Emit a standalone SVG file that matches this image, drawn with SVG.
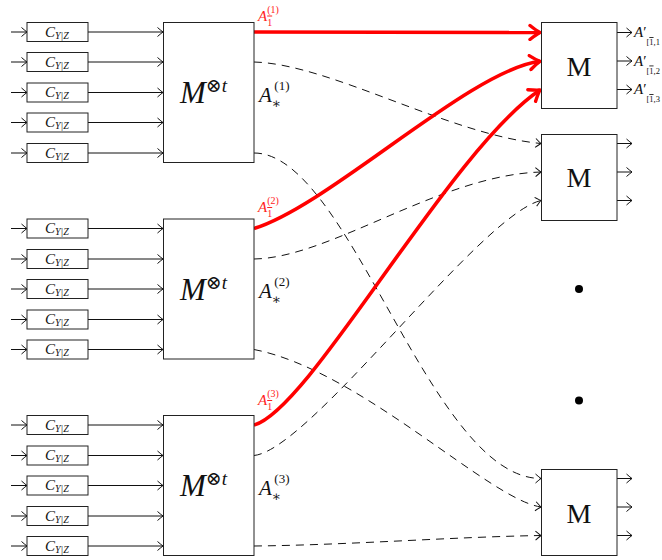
<svg xmlns="http://www.w3.org/2000/svg" width="662" height="560" viewBox="0 0 662 560">
<style>
.box{fill:#fff;stroke:#222;stroke-width:1}
.ln{fill:none;stroke:#111;stroke-width:1}
.dash{fill:none;stroke:#111;stroke-width:1;stroke-dasharray:8 6}
.red{fill:none;stroke:#f00;stroke-width:3.6}
.t{font-family:"Liberation Serif","DejaVu Serif",serif;fill:#111}
.it{font-style:italic}
.rt{font-family:"Liberation Serif","DejaVu Serif",serif;fill:#f22}
.ov{text-decoration:overline}
</style>
<defs>
<marker id="ah" viewBox="-7 -6 9 12" markerWidth="9" markerHeight="12" refX="0" refY="0" orient="auto" markerUnits="userSpaceOnUse">
<path d="M-5.5,-4.5 Q-1.5,-1 0,0 Q-1.5,1 -5.5,4.5" fill="none" stroke="#111" stroke-width="1"/>
</marker>
<marker id="rah" viewBox="-14 -9 16 18" markerWidth="16" markerHeight="18" refX="0" refY="0" orient="auto" markerUnits="userSpaceOnUse">
<path d="M-10,-7 Q-3,-1.5 0,0 Q-3,1.5 -10,7" fill="none" stroke="#f00" stroke-width="3.4" stroke-linecap="round" stroke-linejoin="round"/>
</marker>
</defs>
<rect width="662" height="560" fill="#fff"/>

<g id="connectors">
<g class="ln" marker-end="url(#ah)">
<path d="M11,32H27"/><path d="M11,62H27"/><path d="M11,92.5H27"/><path d="M11,122.5H27"/><path d="M11,153H27"/>
<path d="M88,32H163"/><path d="M88,62H163"/><path d="M88,92.5H163"/><path d="M88,122.5H163"/><path d="M88,153H163"/>
<path d="M11,228.5H27"/><path d="M11,259H27"/><path d="M11,289H27"/><path d="M11,319.5H27"/><path d="M11,349.5H27"/>
<path d="M88,228.5H163"/><path d="M88,259H163"/><path d="M88,289H163"/><path d="M88,319.5H163"/><path d="M88,349.5H163"/>
<path d="M11,425H27"/><path d="M11,455.5H27"/><path d="M11,485.5H27"/><path d="M11,516H27"/><path d="M11,546H27"/>
<path d="M88,425H163"/><path d="M88,455.5H163"/><path d="M88,485.5H163"/><path d="M88,516H163"/><path d="M88,546H163"/>
<path d="M617,32.5H632"/><path d="M617,61H632"/><path d="M617,89.5H632"/>
<path d="M617,143.5H632"/><path d="M617,172H632"/><path d="M617,200.5H632"/>
<path d="M617,478.5H632"/><path d="M617,507H632"/><path d="M617,535.5H632"/>
</g>
<g class="dash" marker-end="url(#ah)">
<path d="M254,62 C330,64 450,135 541,143.5"/>
<path d="M254,153 C350,153 430,478.5 541,478.5"/>
<path d="M254,259 C330,258 440,175 541,172"/>
<path d="M254,349.5 C360,370 490,500 541,507"/>
<path d="M254,455.5 C310,450 480,215 541,200.5"/>
<path d="M254,546 C350,545 450,537 541,535.5"/>
</g>
<g class="red" marker-end="url(#rah)">
<path d="M254,32 L540,32.5"/>
<path d="M254,228.5 C330,205 470,70 540,61.3"/>
<path d="M254,425 C310,410 450,150 540,90"/>
</g>
</g>

<g id="in1-1"><rect class="box" x="27" y="22.5" width="61" height="19"/><text class="t it" x="57" y="36.5" font-size="15" text-anchor="middle">C<tspan font-size="10" dy="2">Y|Z</tspan></text></g>
<g id="in1-2"><rect class="box" x="27" y="52.5" width="61" height="19"/><text class="t it" x="57" y="66.5" font-size="15" text-anchor="middle">C<tspan font-size="10" dy="2">Y|Z</tspan></text></g>
<g id="in1-3"><rect class="box" x="27" y="83" width="61" height="19"/><text class="t it" x="57" y="97" font-size="15" text-anchor="middle">C<tspan font-size="10" dy="2">Y|Z</tspan></text></g>
<g id="in1-4"><rect class="box" x="27" y="113" width="61" height="19"/><text class="t it" x="57" y="127" font-size="15" text-anchor="middle">C<tspan font-size="10" dy="2">Y|Z</tspan></text></g>
<g id="in1-5"><rect class="box" x="27" y="143.5" width="61" height="19"/><text class="t it" x="57" y="157.5" font-size="15" text-anchor="middle">C<tspan font-size="10" dy="2">Y|Z</tspan></text></g>

<g id="in2-1"><rect class="box" x="27" y="219" width="61" height="19"/><text class="t it" x="57" y="233" font-size="15" text-anchor="middle">C<tspan font-size="10" dy="2">Y|Z</tspan></text></g>
<g id="in2-2"><rect class="box" x="27" y="249.5" width="61" height="19"/><text class="t it" x="57" y="263.5" font-size="15" text-anchor="middle">C<tspan font-size="10" dy="2">Y|Z</tspan></text></g>
<g id="in2-3"><rect class="box" x="27" y="279.5" width="61" height="19"/><text class="t it" x="57" y="293.5" font-size="15" text-anchor="middle">C<tspan font-size="10" dy="2">Y|Z</tspan></text></g>
<g id="in2-4"><rect class="box" x="27" y="310" width="61" height="19"/><text class="t it" x="57" y="324" font-size="15" text-anchor="middle">C<tspan font-size="10" dy="2">Y|Z</tspan></text></g>
<g id="in2-5"><rect class="box" x="27" y="340" width="61" height="19"/><text class="t it" x="57" y="354" font-size="15" text-anchor="middle">C<tspan font-size="10" dy="2">Y|Z</tspan></text></g>

<g id="in3-1"><rect class="box" x="27" y="415.5" width="61" height="19"/><text class="t it" x="57" y="429.5" font-size="15" text-anchor="middle">C<tspan font-size="10" dy="2">Y|Z</tspan></text></g>
<g id="in3-2"><rect class="box" x="27" y="446" width="61" height="19"/><text class="t it" x="57" y="460" font-size="15" text-anchor="middle">C<tspan font-size="10" dy="2">Y|Z</tspan></text></g>
<g id="in3-3"><rect class="box" x="27" y="476" width="61" height="19"/><text class="t it" x="57" y="490" font-size="15" text-anchor="middle">C<tspan font-size="10" dy="2">Y|Z</tspan></text></g>
<g id="in3-4"><rect class="box" x="27" y="506.5" width="61" height="19"/><text class="t it" x="57" y="520.5" font-size="15" text-anchor="middle">C<tspan font-size="10" dy="2">Y|Z</tspan></text></g>
<g id="in3-5"><rect class="box" x="27" y="536.5" width="61" height="19"/><text class="t it" x="57" y="550.5" font-size="15" text-anchor="middle">C<tspan font-size="10" dy="2">Y|Z</tspan></text></g>

<g id="block1">
<rect class="box" x="163.5" y="22.5" width="90.5" height="140"/>
<text class="t" x="180" y="103" font-size="31"><tspan class="it">M</tspan><tspan font-size="19" dy="-11">⊗</tspan><tspan class="it" font-size="19">t</tspan></text>
<text class="t" x="259" y="101.5" font-size="21"><tspan class="it">A</tspan><tspan font-size="14" dy="6">∗</tspan><tspan font-size="13" dx="-7" dy="-18">(1)</tspan></text>
<text class="rt" x="258" y="20.5" font-size="15"><tspan class="it">A</tspan><tspan class="ov" font-size="10" dy="5">1</tspan><tspan font-size="10" dx="-5" dy="-13">(1)</tspan></text>
</g>
<g id="block2">
<rect class="box" x="163.5" y="219" width="90.5" height="140"/>
<text class="t" x="180" y="299.5" font-size="31"><tspan class="it">M</tspan><tspan font-size="19" dy="-11">⊗</tspan><tspan class="it" font-size="19">t</tspan></text>
<text class="t" x="259" y="298" font-size="21"><tspan class="it">A</tspan><tspan font-size="14" dy="6">∗</tspan><tspan font-size="13" dx="-7" dy="-18">(2)</tspan></text>
<text class="rt" x="258" y="212" font-size="15"><tspan class="it">A</tspan><tspan class="ov" font-size="10" dy="5">1</tspan><tspan font-size="10" dx="-5" dy="-13">(2)</tspan></text>
</g>
<g id="block3">
<rect class="box" x="163.5" y="415.5" width="90.5" height="140"/>
<text class="t" x="180" y="496" font-size="31"><tspan class="it">M</tspan><tspan font-size="19" dy="-11">⊗</tspan><tspan class="it" font-size="19">t</tspan></text>
<text class="t" x="259" y="495" font-size="21"><tspan class="it">A</tspan><tspan font-size="14" dy="6">∗</tspan><tspan font-size="13" dx="-7" dy="-18">(3)</tspan></text>
<text class="rt" x="258" y="405" font-size="15"><tspan class="it">A</tspan><tspan class="ov" font-size="10" dy="5">1</tspan><tspan font-size="10" dx="-5" dy="-13">(3)</tspan></text>
</g>

<g id="m1">
<rect class="box" x="541.5" y="22.5" width="75.5" height="86"/>
<text class="t" x="579" y="76" font-size="28" text-anchor="middle">M</text>
<text class="t" x="634" y="37" font-size="15"><tspan class="it">A</tspan>′<tspan font-size="8.5" dy="8">[<tspan class="ov">1</tspan>,1</tspan></text>
<text class="t" x="634" y="65.5" font-size="15"><tspan class="it">A</tspan>′<tspan font-size="8.5" dy="8">[<tspan class="ov">1</tspan>,2</tspan></text>
<text class="t" x="634" y="94" font-size="15"><tspan class="it">A</tspan>′<tspan font-size="8.5" dy="8">[<tspan class="ov">1</tspan>,3</tspan></text>
</g>
<g id="m2">
<rect class="box" x="541.5" y="134.5" width="75.5" height="86"/>
<text class="t" x="579" y="187" font-size="28" text-anchor="middle">M</text>
</g>
<g id="dots">
<circle cx="579" cy="289" r="4" fill="#000"/>
<circle cx="579" cy="400.5" r="4" fill="#000"/>
</g>
<g id="m3">
<rect class="box" x="541.5" y="469.5" width="75.5" height="86"/>
<text class="t" x="579" y="523" font-size="28" text-anchor="middle">M</text>
</g>
</svg>
